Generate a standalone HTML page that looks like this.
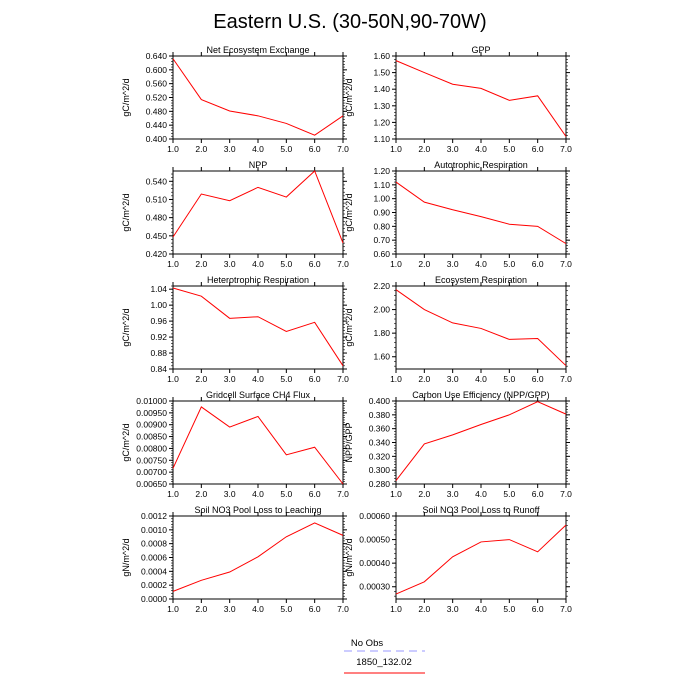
<!DOCTYPE html>
<html><head><meta charset="utf-8"><style>
body{margin:0;background:#fff}
svg{display:block;font-family:"Liberation Sans",sans-serif}
</style></head><body>
<svg id="chart" width="700" height="700" viewBox="0 0 700 700">
<text x="350" y="28" font-size="20" text-anchor="middle">Eastern U.S. (30-50N,90-70W)</text>
<text x="367" y="646" font-size="9.5" text-anchor="middle">No Obs</text>
<line x1="344" y1="651" x2="425" y2="651" stroke="#9999ff" stroke-width="1" stroke-dasharray="8,5"/>
<text x="384" y="665" font-size="9.5" text-anchor="middle">1850_132.02</text>
<line x1="344" y1="673" x2="425" y2="673" stroke="#ff0000" stroke-width="1"/>
</svg>
<script>
const xValues=[1,2,3,4,5,6,7];
const titles=["Net Ecosystem Exchange","GPP","NPP","Autotrophic Respiration","Heterotrophic Respiration","Ecosystem Respiration","Gridcell Surface CH4 Flux","Carbon Use Efficiency (NPP/GPP)","Soil NO3 Pool Loss to Leaching","Soil NO3 Pool Loss to Runoff"];
const yTitles=["gC/m^2/d","gC/m^2/d","gC/m^2/d","gC/m^2/d","gC/m^2/d","gC/m^2/d","gC/m^2/d","NPP/GPP","gN/m^2/d","gN/m^2/d"];
const seriesNEE=[0.632,0.514,0.481,0.467,0.445,0.411,0.467];
const seriesGPP=[1.572,1.50,1.43,1.405,1.333,1.36,1.115];
const seriesNPP=[0.448,0.519,0.508,0.530,0.514,0.557,0.438];
const seriesAR=[1.12,0.975,0.92,0.87,0.815,0.80,0.675];
const seriesHR=[1.043,1.0225,0.967,0.971,0.934,0.957,0.848];
const seriesER=[2.169,2.0,1.887,1.84,1.747,1.755,1.524];
const seriesCH4=[0.00716,0.00975,0.0089,0.00935,0.00773,0.00805,0.0065];
const seriesCUE=[0.285,0.338,0.351,0.366,0.380,0.399,0.381];
const seriesLeach=[0.00011,0.00027,0.00039,0.00061,0.00090,0.00110,0.00092];
const seriesRunoff=[0.000269,0.000321,0.000427,0.00049,0.0005,0.000448,0.000562];
const yMins=[0.400,1.10,0.420,0.60,0.84,1.496,0.0065,0.28,0,0.000248];
const yMaxs=[0.640,1.60,0.557,1.20,1.048,2.20,0.0100,0.40,0.0012,0.00060];
const yTickStarts=[0.400,1.10,0.420,0.60,0.84,1.60,0.0065,0.28,0,0.0003];
const yTickSteps=[0.04,0.10,0.03,0.10,0.04,0.20,0.0005,0.02,0.0002,0.0001];
const yDecimals=[3,2,3,2,2,2,5,3,4,5];
const allSeries=[seriesNEE,seriesGPP,seriesNPP,seriesAR,seriesHR,seriesER,seriesCH4,seriesCUE,seriesLeach,seriesRunoff];
const svg=document.getElementById('chart');
const NS='http://www.w3.org/2000/svg';
function mk(tag,attrs){const e=document.createElementNS(NS,tag);for(const k in attrs)e.setAttribute(k,attrs[k]);svg.appendChild(e);return e;}
const W=170,H=83;
allSeries.forEach((ser,i)=>{
  const col=i%2,row=Math.floor(i/2);
  const L=col?396:173,T=56+row*115,R=L+W,B=T+H;
  const xs=v=>L+(v-1)/6*W;
  const ys=v=>B-(v-yMins[i])/(yMaxs[i]-yMins[i])*H;
  const fr=mk('rect',{x:L,y:T,width:W,height:H,fill:'none',stroke:'#000','stroke-width':1});
  
  
  const tt=mk('text',{x:(L+R)/2,y:T-3,'font-size':9,'text-anchor':'middle'});
  tt.textContent=titles[i];
  
  
  const yt=mk('text',{x:0,y:0,'font-size':9,'text-anchor':'middle',transform:`translate(${L-44},${(T+B)/2}) rotate(-90)`});
  yt.textContent=yTitles[i];
  
  
  xValues.forEach(v=>{
    const x=xs(v);
    mk('line',{x1:x,y1:B,x2:x,y2:B+4,stroke:'#000'});
    mk('line',{x1:x,y1:T,x2:x,y2:T-4,stroke:'#000'});
    const t=mk('text',{x:x,y:B+13,'font-size':8.5,'text-anchor':'middle'});
    t.textContent=v.toFixed(1);
    
    
  });
  const st=yTickSteps[i];
  for(let k=0;;k++){
    const v=yTickStarts[i]+k*st;
    if(v>yMaxs[i]+st*1e-6)break;
    const y=ys(v);
    mk('line',{x1:L,y1:y,x2:L-4,y2:y,stroke:'#000'});
    mk('line',{x1:R,y1:y,x2:R+4,y2:y,stroke:'#000'});
    const t=mk('text',{x:L-6,y:y+3,'font-size':8.5,'text-anchor':'end'});
    t.textContent=v.toFixed(yDecimals[i]);
    
    
  }
  for(let k=-5;;k++){
    const v=yTickStarts[i]+k*st/5;
    if(v>yMaxs[i]+st*1e-6)break;
    if(v<yMins[i]-st*1e-6)continue;
    const y=ys(v);
    mk('line',{x1:L,y1:y,x2:L-2,y2:y,stroke:'#000','stroke-width':0.6});
    mk('line',{x1:R,y1:y,x2:R+2,y2:y,stroke:'#000','stroke-width':0.6});
  }
  const pts=ser.map((v,j)=>xs(xValues[j])+','+ys(v)).join(' ');
  const pl=mk('polyline',{points:pts,fill:'none',stroke:'#ff0000','stroke-width':1});
  
  
});
</script>
</body></html>
